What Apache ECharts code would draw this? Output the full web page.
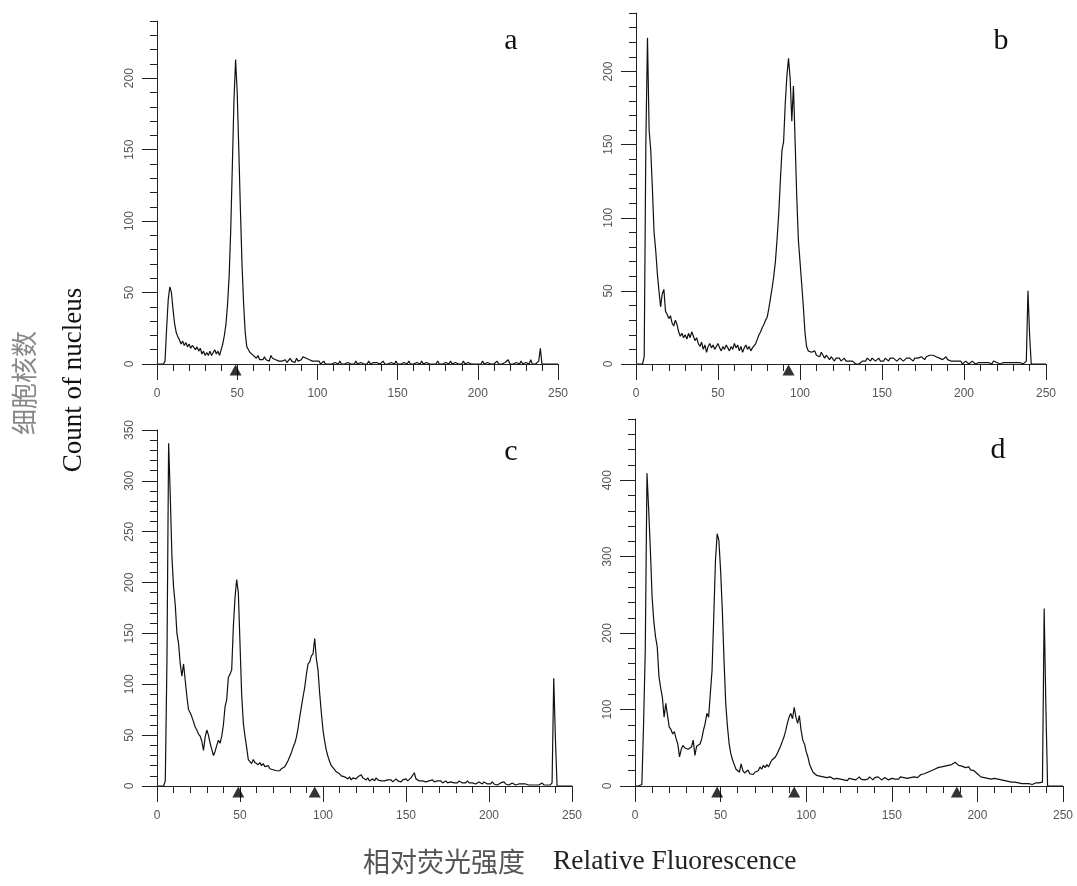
<!DOCTYPE html>
<html>
<head>
<meta charset="utf-8">
<script src="https://cdn.jsdelivr.net/npm/echarts@6/dist/echarts.min.js"></script>
<style>
html, body { margin: 0; padding: 0; background: #fff; }
#chart { width: 1077px; height: 886px; }
</style>
</head>
<body>
<div id="chart"></div>
<script>
// 每个荧光通道(0..250)的细胞核计数
const countsA = [
    0,0,0,0,0,2,25,45,54,50,
    38,28,22,19,17,14,16,13,15,12,
    14,11,13,12,10,12,9,11,7,9,
    6,8,6,9,6,7,10,7,9,6,
    10,14,20,28,42,62,95,140,185,213,
    190,150,108,70,42,22,12,10,8,9,
    6,5,4,6,3,4,3,5,3,4,
    2,6,4,5,3,4,2,3,2,1,
    3,1,2,4,2,3,1,4,2,3,
    3,5,6,4,5,3,4,2,3,2,
    1,2,0,1,2,0,1,0,1,0,
    0,1,0,0,2,0,1,0,0,1,
    0,0,1,0,2,0,0,1,0,0,
    1,0,2,0,0,1,0,1,0,0,
    0,2,0,1,0,0,1,0,0,2,
    0,1,0,0,1,0,0,2,0,1,
    0,0,1,0,0,2,0,0,1,0,
    0,1,0,0,0,2,0,1,0,0,
    1,0,0,2,0,0,1,0,0,1,
    0,2,0,0,1,0,0,1,0,0,
    0,1,0,2,0,0,1,0,0,1,
    0,0,2,0,1,0,0,1,0,3,
    0,1,0,0,1,0,0,2,0,0,
    1,0,0,3,0,1,0,0,2,11,
    0,0,0,0,0,0,0,0,0,0,0
];
const countsB = [
    0,0,0,0,0,5,150,223,160,146,
    120,90,78,62,50,39,48,51,36,34,
    31,33,28,26,30,27,22,19,21,18,
    20,17,21,18,22,19,16,18,14,12,
    15,10,13,8,12,14,11,13,10,12,
    14,11,9,12,10,13,11,9,12,10,
    14,11,13,9,12,8,11,13,10,12,
    9,11,10,14,17,20,22,25,27,30,
    32,38,45,52,60,70,85,102,125,146,
    152,178,197,209,195,166,190,153,115,85,
    70,55,40,22,12,9,10,8,7,9,
    6,7,5,8,6,4,6,5,3,5,
    4,2,4,3,4,2,3,4,2,3,
    2,1,2,1,0,1,0,1,2,3,
    2,4,3,2,4,3,2,3,4,2,
    3,2,4,3,2,4,3,4,3,2,
    3,4,3,2,3,4,3,4,3,2,
    4,3,4,3,5,4,3,5,4,6,
    5,6,7,5,6,4,5,3,4,5,
    3,4,2,3,2,1,2,1,2,0,
    1,2,1,0,1,2,1,0,1,1,
    2,1,0,1,2,1,1,0,2,1,
    1,2,0,1,1,2,1,0,1,2,
    1,0,1,2,1,1,0,1,2,50,
    20,0,0,0,0,0,0,0,0,0,0
];
const countsC = [
    0,0,0,0,0,5,124,337,285,225,
    195,178,150,140,120,108,120,104,88,75,
    72,68,63,58,55,51,49,44,35,48,
    55,50,42,36,30,34,40,45,42,49,
    60,78,85,107,110,114,157,185,203,190,
    140,90,62,49,38,26,24,22,26,23,
    24,21,23,20,22,19,18,20,17,18,
    16,17,15,16,15,17,16,19,22,25,
    29,33,38,42,48,57,68,78,88,97,
    110,120,122,128,130,145,125,114,91,72,
    55,44,35,29,24,20,18,16,14,13,
    12,10,11,9,8,7,9,6,8,7,
    7,9,8,11,8,7,6,8,5,6,
    7,5,8,6,7,5,6,5,4,6,
    5,6,4,5,7,5,6,4,6,5,
    7,5,6,8,7,13,7,6,5,4,
    5,6,4,3,5,4,6,4,3,5,
    4,5,3,4,5,3,4,4,5,3,
    4,3,5,4,3,4,3,5,3,4,
    3,4,2,3,4,3,2,4,3,2,
    3,2,4,2,3,1,2,3,2,4,
    2,3,1,2,3,2,1,2,2,1,
    2,1,2,3,1,2,1,2,1,2,
    1,2,3,1,2,1,2,1,3,106,
    47,0,0,0,0,0,0,0,0,0,0
];
const countsD = [
    0,0,0,0,2,80,178,409,361,308,
    247,215,195,182,143,128,116,90,108,92,
    77,74,68,71,62,55,38,48,53,50,
    52,48,49,51,60,40,52,50,55,62,
    73,82,95,90,121,151,221,295,330,321,
    282,230,164,108,78,55,42,34,28,22,
    20,18,29,20,17,18,21,16,18,15,
    18,17,20,25,22,27,24,28,25,30,
    34,32,38,42,47,52,58,64,72,82,
    90,95,88,103,90,82,92,73,60,55,
    45,38,28,23,18,16,14,12,13,11,
    12,10,11,9,12,10,9,11,10,8,
    9,10,8,9,7,10,12,9,11,8,
    10,12,9,11,8,10,9,12,10,8,
    11,9,12,10,8,9,11,10,8,9,
    10,8,9,11,9,12,10,11,13,10,
    12,11,13,12,14,11,13,15,14,16,
    15,18,17,20,19,22,21,24,22,25,
    23,26,24,27,25,28,26,31,29,27,
    29,26,28,24,22,25,21,19,20,18,
    16,14,12,13,11,12,10,11,9,10,
    10,8,9,7,8,6,7,5,6,5,
    5,4,5,3,4,4,3,2,3,4,
    3,4,2,3,4,3,4,5,5,232,
    103,0,0,0,0,0,0,0,0,0,0
];

// 峰位三角标记
const peaksA = [49];
const peaksB = [93];
const peaksC = [49, 95];
const peaksD = [48, 93, 188];

// 刻度
const xMajor = [0, 50, 100, 150, 200, 250];
const xMinor = [0,10,20,30,40,50,60,70,80,90,100,110,120,130,140,150,160,170,180,190,200,210,220,230,240,250];
const yMajorAB = [0, 50, 100, 150, 200];
const yMinorAB = [0,10,20,30,40,50,60,70,80,90,100,110,120,130,140,150,160,170,180,190,200,210,220,230,240];
const yMajorC = [0, 50, 100, 150, 200, 250, 300, 350];
const yMinorC = [0,10,20,30,40,50,60,70,80,90,100,110,120,130,140,150,160,170,180,190,200,210,220,230,240,250,260,270,280,290,300,310,320,330,340,350];
const yMajorD = [0, 100, 200, 300, 400];
const yMinorD = [0,20,40,60,80,100,120,140,160,180,200,220,240,260,280,300,320,340,360,380,400,420,440,460,480];

const panels = [
    { tag: 'a', counts: countsA, peaks: peaksA, yMax: 240, yMajor: yMajorAB, yMinor: yMinorAB,
      box: { left: 157, top: 21, width: 401, height: 343 }, tagPos: [511, 41] },
    { tag: 'b', counts: countsB, peaks: peaksB, yMax: 240, yMajor: yMajorAB, yMinor: yMinorAB,
      box: { left: 636, top: 13, width: 410, height: 351 }, tagPos: [1001, 41] },
    { tag: 'c', counts: countsC, peaks: peaksC, yMax: 350, yMajor: yMajorC, yMinor: yMinorC,
      box: { left: 157, top: 430, width: 415, height: 356 }, tagPos: [511, 452] },
    { tag: 'd', counts: countsD, peaks: peaksD, yMax: 480, yMajor: yMajorD, yMinor: yMinorD,
      box: { left: 635, top: 419, width: 428, height: 367 }, tagPos: [998, 450] }
];

const axisColor = '#222';
const labelStyle = { fontSize: 12, color: '#555', fontFamily: '"Liberation Sans", Arial, sans-serif' };
const serif = '"Liberation Serif", "Times New Roman", serif';
const cjk = '"Noto Sans CJK SC", sans-serif';

const grid = [], xAxis = [], yAxis = [], series = [], graphic = [];

panels.forEach((p, i) => {
    grid.push(Object.assign({ outerBoundsMode: 'none', containLabel: false }, p.box));

    // 主刻度 + 标签
    xAxis.push({
        gridIndex: i, type: 'value', position: 'bottom', min: 0, max: 250,
        axisLine: { show: true, onZero: false, lineStyle: { color: axisColor, width: 1 } },
        axisTick: { show: true, customValues: xMajor, length: 16, lineStyle: { color: axisColor } },
        axisLabel: Object.assign({ customValues: xMajor, margin: 24 }, labelStyle),
        splitLine: { show: false }
    });
    // 次刻度
    xAxis.push({
        gridIndex: i, type: 'value', position: 'bottom', min: 0, max: 250,
        axisLine: { show: false },
        axisTick: { show: true, customValues: xMinor, length: 7, lineStyle: { color: axisColor } },
        axisLabel: { show: false },
        splitLine: { show: false }
    });
    yAxis.push({
        gridIndex: i, type: 'value', position: 'left', min: 0, max: p.yMax,
        axisLine: { show: true, onZero: false, lineStyle: { color: axisColor, width: 1 } },
        axisTick: { show: true, customValues: p.yMajor, length: 15, lineStyle: { color: axisColor } },
        axisLabel: Object.assign({ customValues: p.yMajor, rotate: 90, margin: 21 }, labelStyle),
        splitLine: { show: false }
    });
    yAxis.push({
        gridIndex: i, type: 'value', position: 'left', min: 0, max: p.yMax,
        axisLine: { show: false },
        axisTick: { show: true, customValues: p.yMinor, length: 7, lineStyle: { color: axisColor } },
        axisLabel: { show: false },
        splitLine: { show: false }
    });

    series.push({
        type: 'line', xAxisIndex: i * 2, yAxisIndex: i * 2,
        data: p.counts.map((v, ch) => [ch, v]),
        showSymbol: false, symbol: 'none',
        lineStyle: { color: '#111', width: 1.2 },
        silent: true, z: 3
    });
    series.push({
        type: 'scatter', xAxisIndex: i * 2, yAxisIndex: i * 2,
        data: p.peaks.map(x => [x, 0]),
        symbol: 'triangle', symbolSize: [12, 11], symbolOffset: [0, 6],
        itemStyle: { color: '#000' }, clip: false, silent: true, z: 4
    });

    graphic.push({
        type: 'text', x: p.tagPos[0], y: p.tagPos[1],
        style: { text: p.tag, font: '30px ' + serif, fill: '#111', align: 'center', verticalAlign: 'middle' }
    });
});

// 坐标轴标题
graphic.push({
    type: 'text', x: 24, y: 383, rotation: Math.PI / 2,
    style: { text: '细胞核数', font: '26px ' + cjk, fill: '#888', align: 'center', verticalAlign: 'middle' }
});
graphic.push({
    type: 'text', x: 74, y: 380, rotation: Math.PI / 2,
    style: { text: 'Count of nucleus', font: '27px ' + serif, fill: '#111', align: 'center', verticalAlign: 'middle' }
});
graphic.push({
    type: 'text', x: 363, y: 862,
    style: { text: '相对荧光强度', font: '27px ' + cjk, fill: '#555', align: 'left', verticalAlign: 'middle' }
});
graphic.push({
    type: 'text', x: 553, y: 862,
    style: { text: 'Relative Fluorescence', font: '27.5px ' + serif, fill: '#222', align: 'left', verticalAlign: 'middle' }
});

const chart = echarts.init(document.getElementById('chart'));
chart.setOption({
    animation: false,
    backgroundColor: '#fff',
    grid: grid,
    xAxis: xAxis,
    yAxis: yAxis,
    series: series,
    graphic: graphic
});
</script>
</body>
</html>
